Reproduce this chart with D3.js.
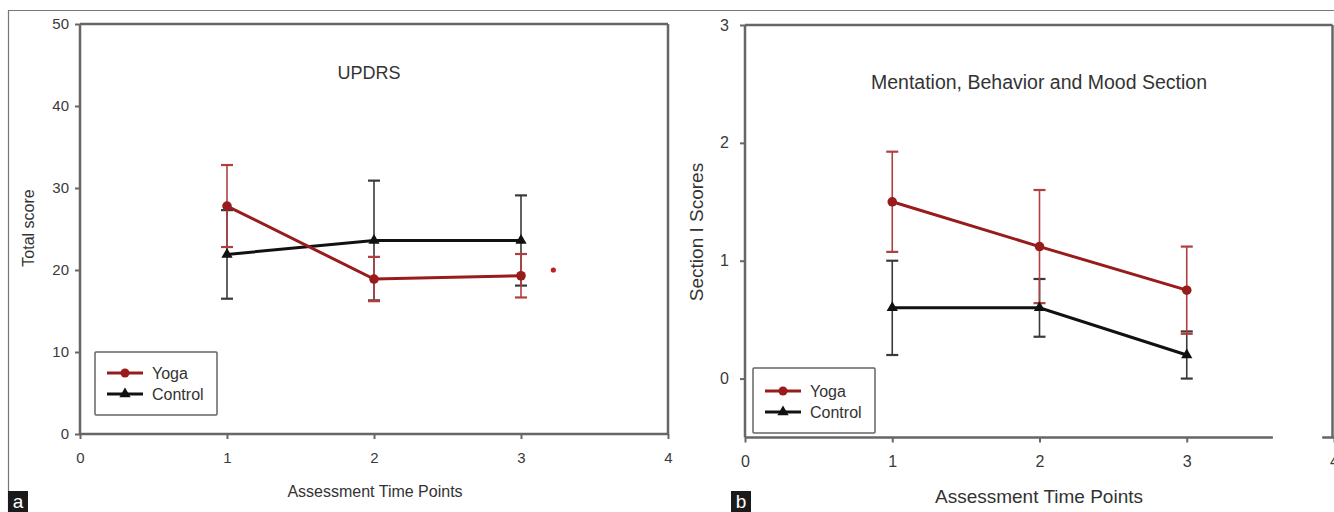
<!DOCTYPE html>
<html>
<head>
<meta charset="utf-8">
<script src="https://d3js.org/d3.v7.min.js"></script>
<style>
  body { margin: 0; background: #fff; }
  svg text { font-family: "Liberation Sans", Arial, sans-serif; fill: #333; }
  .axis path { display: none; }
  .axis line { stroke: #666; stroke-width: 2; }
</style>
</head>
<body>
<svg id="chart" width="1334" height="512"></svg>
<script>
// time points
var timePoints = [1, 2, 3];
var xTicks = [0, 1, 2, 3, 4];

// panel a: UPDRS total score
var updrsYoga = [27.8, 18.9, 19.3];
var updrsYogaErr = [5.0, 2.7, 2.65];
var updrsControl = [21.9, 23.6, 23.6];
var updrsControlErr = [5.4, 7.3, 5.5];
var updrsTicks = [0, 10, 20, 30, 40, 50];
var updrsExtraDot = [3.22, 20];

// panel b: mentation, behavior and mood section
var mbmYoga = [1.5, 1.12, 0.75];
var mbmYogaErr = [0.425, 0.48, 0.37];
var mbmControl = [0.6, 0.6, 0.2];
var mbmControlErr = [0.4, 0.245, 0.2];
var mbmTicks = [0, 1, 2, 3];

var red = "#991c1c", redErr = "#b04040", black = "#111", blackErr = "#3a3a3a";

var svg = d3.select("#chart");

// outer frame
svg.append("line").attr("x1", 8).attr("x2", 1334).attr("y1", 10.5).attr("y2", 10.5)
   .attr("stroke", "#777").attr("stroke-width", 1.2);
svg.append("line").attr("x1", 8.5).attr("x2", 8.5).attr("y1", 10).attr("y2", 512)
   .attr("stroke", "#777").attr("stroke-width", 1.2);

function panel(cfg) {
  var x = d3.scaleLinear().domain([0, 4]).range(cfg.xr);
  var y = d3.scaleLinear().domain(cfg.yd).range(cfg.yr);
  var g = svg.append("g");

  // frame: top and right
  g.append("line").attr("x1", x(0)).attr("x2", cfg.frameRight).attr("y1", y(cfg.yd[1])).attr("y2", y(cfg.yd[1]))
   .attr("stroke", "#666").attr("stroke-width", 2.5);
  g.append("line").attr("x1", cfg.frameRight).attr("x2", cfg.frameRight).attr("y1", y(cfg.yd[1])).attr("y2", y(cfg.yd[0]))
   .attr("stroke", "#666").attr("stroke-width", 2.5);
  // left axis line
  g.append("line").attr("x1", x(0)).attr("x2", x(0)).attr("y1", y(cfg.yd[1])).attr("y2", y(cfg.yd[0]))
   .attr("stroke", "#666").attr("stroke-width", 2.5);
  // bottom axis line (may be broken)
  cfg.xSegments.forEach(function(s) {
    g.append("line").attr("x1", x(s[0])).attr("x2", x(s[1])).attr("y1", y(cfg.yd[0])).attr("y2", y(cfg.yd[0]))
     .attr("stroke", "#666").attr("stroke-width", 2.5);
  });

  var xa = g.append("g").attr("class", "axis")
    .attr("transform", "translate(0," + y(cfg.yd[0]) + ")")
    .call(d3.axisBottom(x).tickValues(xTicks).tickSize(5).tickPadding(cfg.xPad).tickFormat(d3.format("d")));
  xa.selectAll("text").style("font-size", cfg.tickFont + "px").style("fill", "#3a3a3a");

  var ya = g.append("g").attr("class", "axis")
    .attr("transform", "translate(" + x(0) + ",0)")
    .call(d3.axisLeft(y).tickValues(cfg.yTicks).tickSize(5).tickPadding(cfg.yPad).tickFormat(d3.format("d")));
  ya.selectAll("text").style("font-size", cfg.tickFont + "px").style("fill", "#3a3a3a");

  // title and labels
  g.append("text").attr("x", cfg.titleX).attr("y", cfg.titleY).attr("text-anchor", "middle")
   .style("font-size", cfg.titleFont + "px").text(cfg.title);
  g.append("text").attr("x", cfg.xLabelX).attr("y", cfg.xLabelY).attr("text-anchor", "middle")
   .style("font-size", cfg.xLabelFont + "px").text("Assessment Time Points");
  g.append("text").attr("transform", "translate(" + cfg.yLabelX + "," + cfg.yLabelY + ") rotate(-90)")
   .attr("text-anchor", "middle").attr("dy", "0.35em")
   .style("font-size", cfg.yLabelFont + "px").text(cfg.yLabel);

  function errBars(vals, errs, color) {
    var eg = g.append("g").attr("stroke", color).attr("stroke-width", 1.6).attr("fill", "none");
    timePoints.forEach(function(t, i) {
      var cx = x(t), hi = y(vals[i] + errs[i]), lo = y(vals[i] - errs[i]);
      eg.append("line").attr("x1", cx).attr("x2", cx).attr("y1", hi).attr("y2", lo);
      eg.append("line").attr("x1", cx - 6).attr("x2", cx + 6).attr("y1", hi).attr("y2", hi).attr("stroke-width", 2.2);
      eg.append("line").attr("x1", cx - 6).attr("x2", cx + 6).attr("y1", lo).attr("y2", lo).attr("stroke-width", 2.2);
    });
  }
  errBars(cfg.control, cfg.controlErr, blackErr);
  errBars(cfg.yoga, cfg.yogaErr, redErr);

  var line = d3.line().x(function(d, i) { return x(timePoints[i]); }).y(function(d) { return y(d); });
  g.append("path").datum(cfg.control).attr("d", line).attr("fill", "none").attr("stroke", black).attr("stroke-width", 3);
  g.append("path").datum(cfg.yoga).attr("d", line).attr("fill", "none").attr("stroke", red).attr("stroke-width", 3);

  var tri = d3.symbol().type(d3.symbolTriangle).size(55);
  g.selectAll(".tri").data(cfg.control).enter().append("path")
   .attr("transform", function(d, i) { return "translate(" + x(timePoints[i]) + "," + y(d) + ")"; })
   .attr("d", tri).attr("fill", black);
  g.selectAll(".dot").data(cfg.yoga).enter().append("circle")
   .attr("cx", function(d, i) { return x(timePoints[i]); }).attr("cy", function(d) { return y(d); })
   .attr("r", 4.8).attr("fill", red);

  if (cfg.extra) {
    g.append("circle").attr("cx", x(cfg.extra[0])).attr("cy", y(cfg.extra[1])).attr("r", 2.6).attr("fill", "#c02020");
  }

  // legend
  var L = cfg.legend;
  g.append("rect").attr("x", L.x).attr("y", L.y).attr("width", L.w).attr("height", L.h)
   .attr("fill", "#fff").attr("stroke", "#666").attr("stroke-width", 1.5).attr("rx", 1);
  [["Yoga", red, "circle"], ["Control", black, "tri"]].forEach(function(item, i) {
    var ly = L.y + L.row0 + i * L.rowGap;
    g.append("line").attr("x1", L.x + 12).attr("x2", L.x + 48).attr("y1", ly).attr("y2", ly)
     .attr("stroke", item[1]).attr("stroke-width", 3);
    if (item[2] === "circle") {
      g.append("circle").attr("cx", L.x + 30).attr("cy", ly).attr("r", 4.5).attr("fill", item[1]);
    } else {
      g.append("path").attr("transform", "translate(" + (L.x + 30) + "," + ly + ")").attr("d", tri).attr("fill", item[1]);
    }
    g.append("text").attr("x", L.x + 57).attr("y", ly).attr("dy", "0.36em")
     .style("font-size", "16px").text(item[0]);
  });

  // panel letter
  g.append("rect").attr("x", cfg.letterX).attr("y", 491).attr("width", 20).attr("height", 21).attr("fill", "#1a1a1a");
  g.append("text").attr("x", cfg.letterX + 10).attr("y", 508).attr("text-anchor", "middle")
   .style("font-size", "19px").style("fill", "#fff").text(cfg.letter);
}

panel({
  xr: [80, 668], yd: [0, 50], yr: [434, 24], frameRight: 668,
  xSegments: [[0, 4]], xPad: 13, yPad: 6, yTicks: updrsTicks, tickFont: 15,
  title: "UPDRS", titleX: 369, titleY: 79, titleFont: 18,
  xLabelX: 375, xLabelY: 497, xLabelFont: 16,
  yLabel: "Total score", yLabelX: 28, yLabelY: 228, yLabelFont: 16,
  yoga: updrsYoga, yogaErr: updrsYogaErr, control: updrsControl, controlErr: updrsControlErr,
  extra: updrsExtraDot,
  legend: { x: 95, y: 352, w: 122, h: 63, row0: 21, rowGap: 21 },
  letter: "a", letterX: 8
});

panel({
  xr: [745, 1334], yd: [-0.5, 3], yr: [437.5, 25], frameRight: 1332.5,
  xSegments: [[0, 3.585], [3.92, 4]], xPad: 13, yPad: 11, yTicks: mbmTicks, tickFont: 16,
  title: "Mentation, Behavior and Mood Section", titleX: 1039, titleY: 89, titleFont: 19.5,
  xLabelX: 1039, xLabelY: 503, xLabelFont: 19,
  yLabel: "Section I Scores", yLabelX: 696, yLabelY: 232, yLabelFont: 19,
  yoga: mbmYoga, yogaErr: mbmYogaErr, control: mbmControl, controlErr: mbmControlErr,
  legend: { x: 753, y: 368, w: 122, h: 65, row0: 23, rowGap: 21 },
  letter: "b", letterX: 731
});
</script>
</body>
</html>
